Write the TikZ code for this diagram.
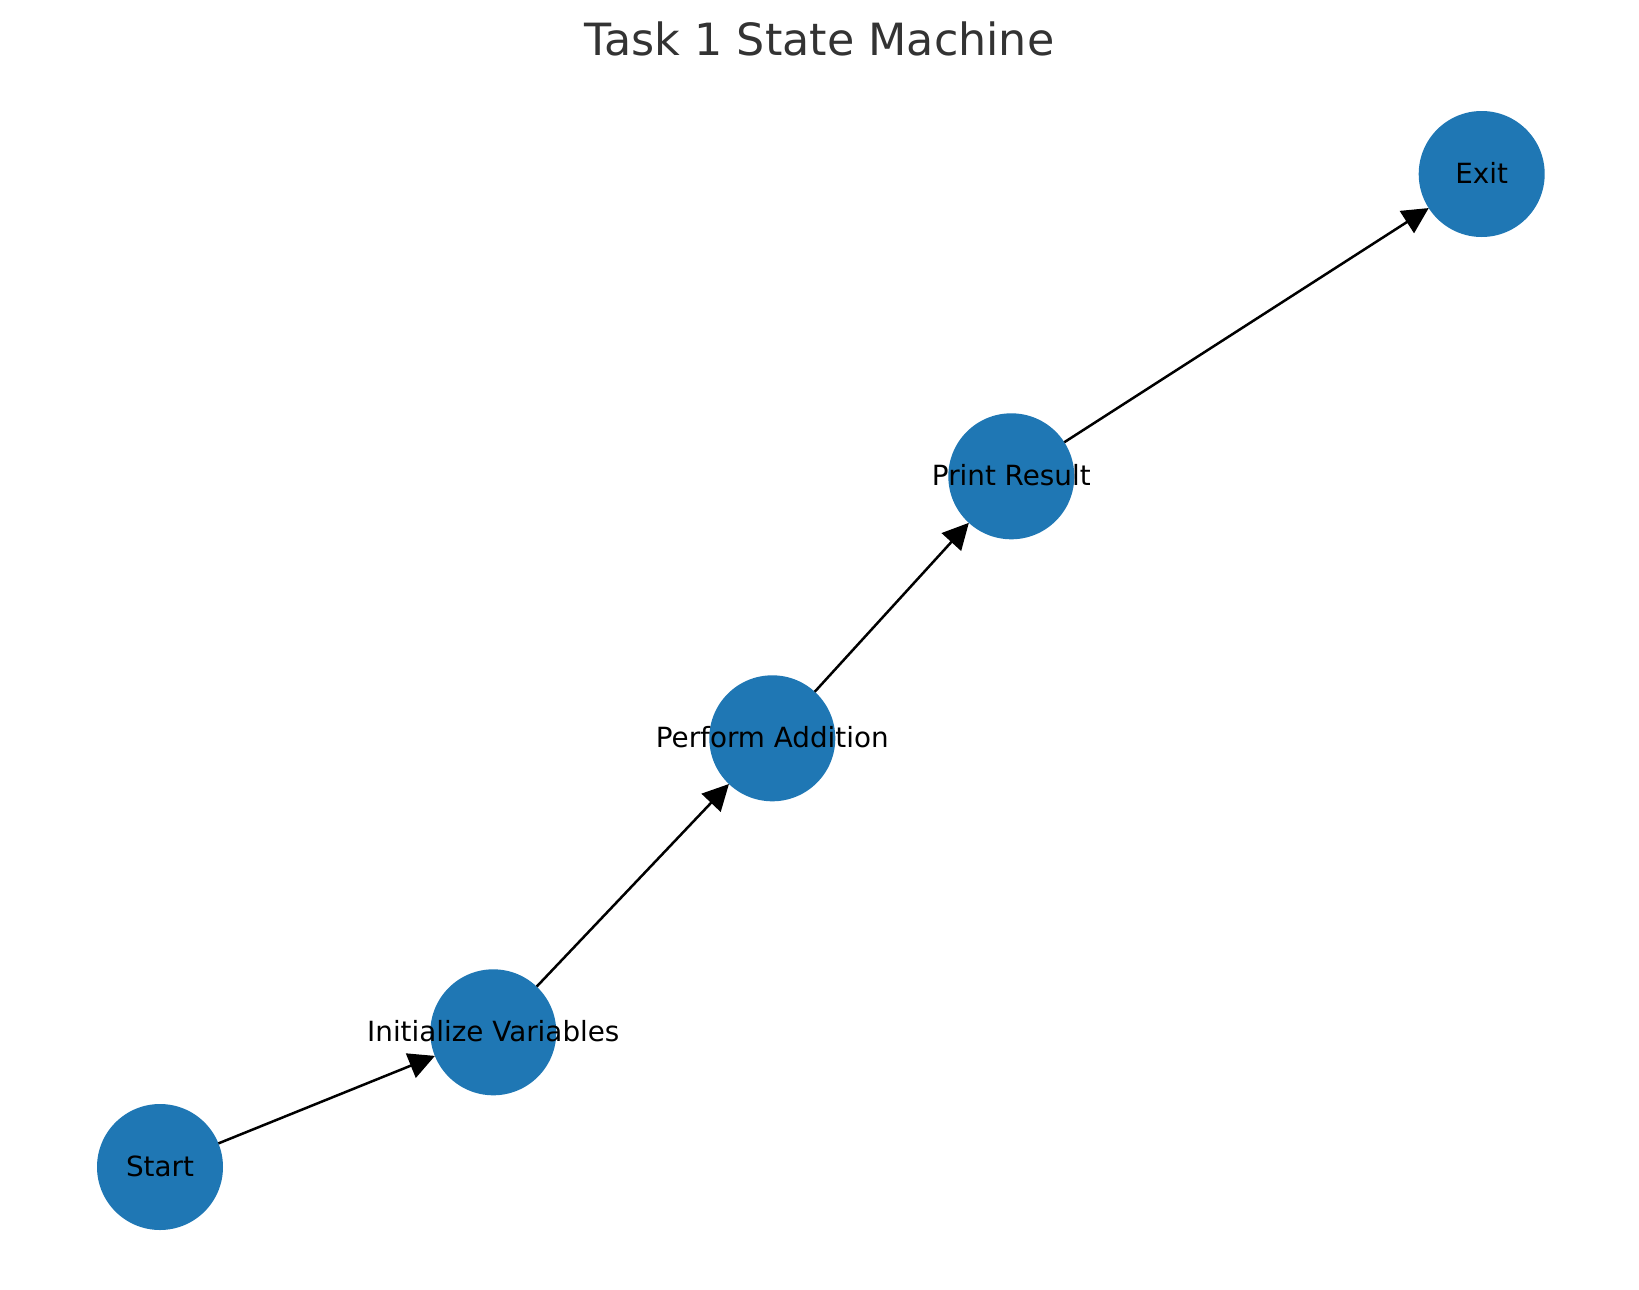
\documentclass[tikz,border=0pt]{standalone}
\usepackage{fontspec}
\setmainfont{DejaVu Sans}
\usetikzlibrary{arrows.meta}
\definecolor{nodeblue}{HTML}{1F77B4}
\definecolor{titlegray}{HTML}{333333}
\begin{document}
\begin{tikzpicture}[x=0.5pt,y=-0.5pt,
  state/.style={circle,fill=nodeblue,draw=none,minimum size=63pt,inner sep=0pt,outer sep=0pt},
  lbl/.style={anchor=base,inner sep=0pt,font=\fontsize{13.9pt}{16pt}\selectfont,text=black},
  edge/.style={draw=black,line width=1.25pt,-{Triangle[length=13pt,width=13pt]}}]
\useasboundingbox (0,0) rectangle (1639,1290);
\node[anchor=base,inner sep=0pt,text=titlegray,font=\fontsize{22.2pt}{26pt}\selectfont] (title) at (819.5,55) {Task 1 State Machine};
\node[state] (start) at (160,1167) {};
\node[state] (init) at (493.3,1032.3) {};
\node[state] (add) at (772.3,738.3) {};
\node[state] (print) at (1011.3,476.3) {};
\node[state] (exit) at (1481.7,174) {};
\draw[edge] (start) -- (init);
\draw[edge] (init) -- (add);
\draw[edge] (add) -- (print);
\draw[edge] (print) -- (exit);
\node[lbl] (lstart) at ([yshift=-9.5*0.5pt]start.center) {Start};
\node[lbl] (linit) at ([yshift=-9.5*0.5pt]init.center) {Initialize Variables};
\node[lbl] (ladd) at ([yshift=-9.5*0.5pt]add.center) {Perform Addition};
\node[lbl] (lprint) at ([yshift=-9.5*0.5pt]print.center) {Print Result};
\node[lbl] (lexit) at ([yshift=-9.5*0.5pt]exit.center) {Exit};
\end{tikzpicture}
\end{document}
